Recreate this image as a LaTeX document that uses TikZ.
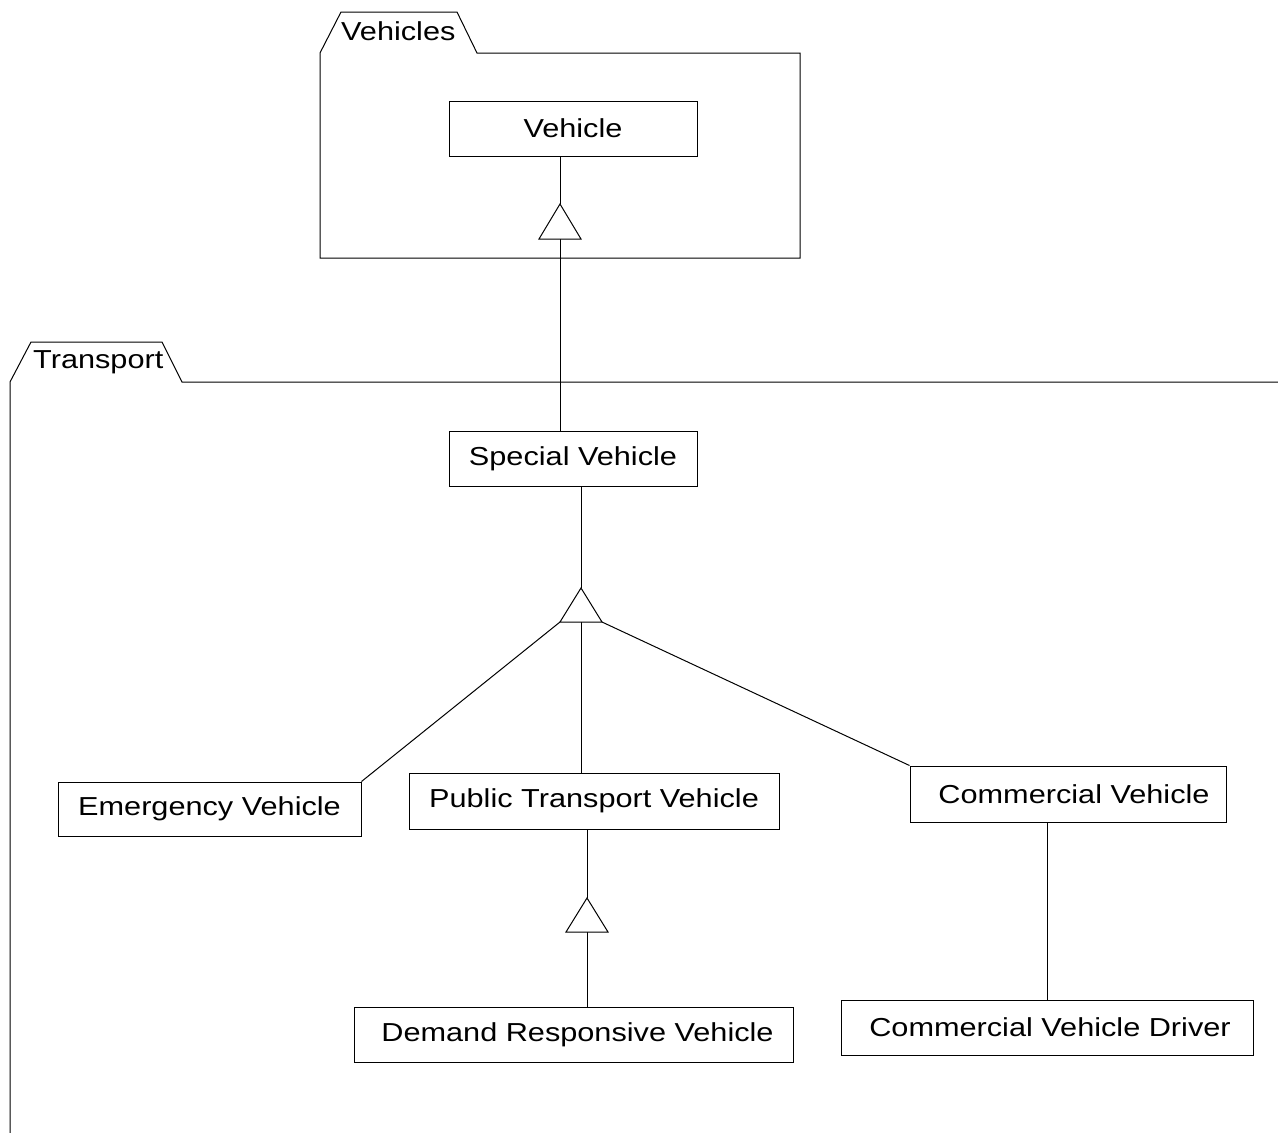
\documentclass[tikz,border=0pt]{standalone}
\usepackage{fontspec}
\setmainfont{Liberation Sans}[FakeStretch=1.18]
\usepackage{tikz}
\usetikzlibrary{calc}

\tikzset{
  classbox/.style={draw, line width=1pt, inner sep=0pt, font=\fontsize{26}{30}\selectfont},
  pkglabel/.style={anchor=base west, inner sep=0pt, font=\fontsize{26}{30}\selectfont},
  pkg/.style={line width=1pt},
  assoc/.style={line width=1pt},
  gentri/.style={line width=1pt, fill=white},
}

\begin{document}
\begin{tikzpicture}[x=1pt, y=-1pt]
        \useasboundingbox (0,0) rectangle (1278,1133);

        % packages
        \draw[pkg] (320,258) -- (320,53) -- (341,12) -- (457,12) -- (477,53) -- (800,53) -- (800,258) -- cycle;
        \node[pkglabel] (vehiclespkg) at (341,40) {Vehicles};
        \draw[pkg] (10,1133) -- (10,382) -- (31,342) -- (162,342) -- (182,382) -- (1278,382);
        \node[pkglabel] (transportpkg) at (33,368) {Transport};

        % classes
        \node[classbox, minimum width=248, minimum height=55] (vehicle) at (573,128.5) {Vehicle};
        \node[classbox, minimum width=248, minimum height=55] (special) at (573,458.5) {Special Vehicle};
        \node[classbox, minimum width=303, minimum height=54] (emergency) at (209.5,809) {Emergency Vehicle};
        \node[classbox, minimum width=370, minimum height=56] (public) at (594,801) {Public Transport Vehicle};
        \node[classbox, minimum width=316, minimum height=56] (commercial) at (1068,794) {\hspace*{12pt}Commercial Vehicle};
        \node[classbox, minimum width=439, minimum height=55] (demand) at (573.5,1034.5) {\hspace*{8pt}Demand Responsive Vehicle};
        \node[classbox, minimum width=412, minimum height=55] (driver) at (1047,1027.5) {\hspace*{6pt}Commercial Vehicle Driver};

        % generalization triangles
        \coordinate (g1) at (560,204);
        \coordinate (g1b) at (560,239);
        \coordinate (g2) at (581,588);
        \coordinate (g2l) at (560,622);
        \coordinate (g2b) at (581,622);
        \coordinate (g2r) at (602,622);
        \coordinate (g3) at (587,898);
        \coordinate (g3b) at (587,932);

        \draw[assoc] (vehicle.south -| g1) -- (g1);
        \draw[assoc] (g1b) -- (special.north -| g1);
        \draw[assoc] (special.south -| g2) -- (g2);
        \draw[assoc] (g2l) -- (emergency.north east);
        \draw[assoc] (g2b) -- (public.north -| g2b);
        \draw[assoc] (g2r) -- (commercial.north west);
        \draw[assoc] (public.south -| g3) -- (g3);
        \draw[assoc] (g3b) -- (demand.north -| g3);
        \draw[assoc] (commercial.south -| driver.north) -- (driver.north);

        \draw[gentri] (g1) -- ($(g1b)+(-21,0)$) -- ($(g1b)+(21,0)$) -- cycle;
        \draw[gentri] (g2) -- (g2l) -- (g2r) -- cycle;
        \draw[gentri] (g3) -- ($(g3b)+(-21,0)$) -- ($(g3b)+(21,0)$) -- cycle;
\end{tikzpicture}
\end{document}
